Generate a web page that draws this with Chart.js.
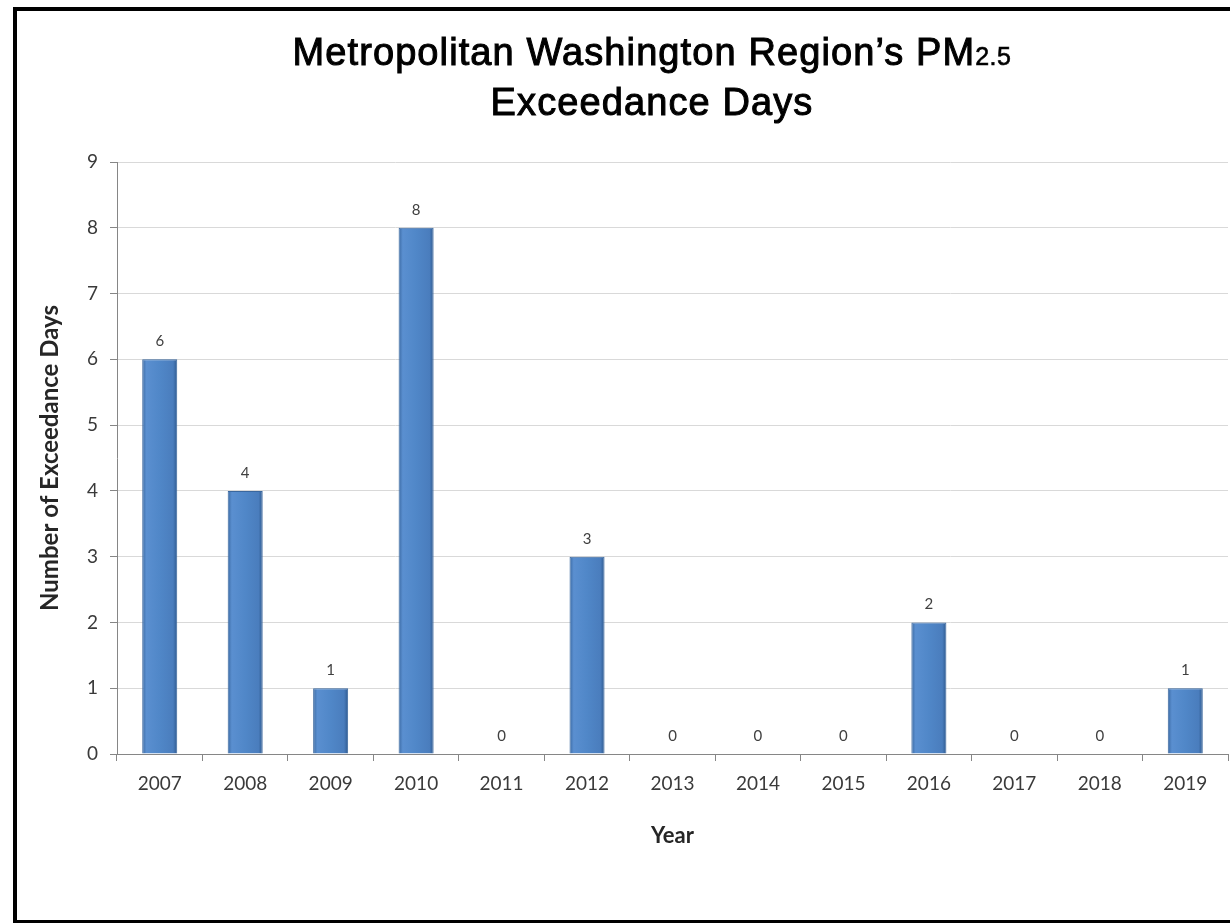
<!DOCTYPE html>
<html>
<head>
<meta charset="utf-8">
<script src="https://cdn.jsdelivr.net/npm/chart.js@4.4.0/dist/chart.umd.min.js"></script>
<style>
  html, body { margin: 0; padding: 0; background: #fff; }
  #wrap { position: relative; width: 1230px; height: 923px; overflow: hidden; }
  #frame { position: absolute; left: 13px; top: 7px; width: 1240px; height: 909px; border: 4px solid #000; box-sizing: content-box; pointer-events: none; }
  #title { position: absolute; left: 0; top: 29px; width: 1304px; text-align: center; font-family: "Liberation Sans", Arial, sans-serif; font-weight: normal; font-size: 38px; letter-spacing: 1.1px; -webkit-text-stroke: 1px #000; line-height: 46px; color: #000; }
  #title .sub { font-size: 25px; letter-spacing: 0.5px; -webkit-text-stroke: 0.6px #000; }
  canvas { position: absolute; left: 0; top: 0; }
</style>
</head>
<body>
<div id="wrap">
  <canvas id="c" width="1230" height="923"></canvas>
  <div id="title">Metropolitan Washington Region’s PM<span class="sub">2.5</span><br>Exceedance Days</div>
  <div id="frame"></div>
</div>
<script>
const years = ["2007","2008","2009","2010","2011","2012","2013","2014","2015","2016","2017","2018","2019"];
const exceedanceDays = [6, 4, 1, 8, 0, 3, 0, 0, 0, 2, 0, 0, 1];
const yTicks = [0, 1, 2, 3, 4, 5, 6, 7, 8, 9];
const xTitle = "Year";
const yTitle = "Number of Exceedance Days";

const FONT = "Lato, 'Open Sans', sans-serif";
const BAR_PCT = 0.82, CAT_PCT = 0.5;

function barFill(ctx) {
  const chart = ctx.chart;
  const xs = chart.scales && chart.scales.x;
  if (!xs || ctx.dataIndex === undefined) return '#4f81bd';
  const cx = xs.getPixelForValue(ctx.dataIndex);
  const half = (xs.width / years.length) * BAR_PCT * CAT_PCT / 2;
  if (!isFinite(cx) || !isFinite(half) || half <= 0) return '#4f81bd';
  const g = chart.ctx.createLinearGradient(cx - half, 0, cx + half, 0);
  g.addColorStop(0, '#3b6aa3');
  g.addColorStop(0.12, '#5a8fd0');
  g.addColorStop(0.5, '#5087c8');
  g.addColorStop(0.88, '#4a7dbd');
  g.addColorStop(1, '#2f5a8f');
  return g;
}

const valueLabels = {
  id: 'valueLabels',
  afterDatasetsDraw(chart) {
    const c = chart.ctx;
    const meta = chart.getDatasetMeta(0);
    c.save();
    c.font = "15px " + FONT;
    c.fillStyle = '#404040';
    c.textAlign = 'center';
    c.textBaseline = 'alphabetic';
    meta.data.forEach((el, i) => {
      c.fillText(String(exceedanceDays[i]), el.x, el.y - 13);
    });
    c.restore();
  }
};

new Chart(document.getElementById('c'), {
  type: 'bar',
  data: {
    labels: years,
    datasets: [{
      data: exceedanceDays,
      backgroundColor: barFill,
      borderColor: '#3a679e',
      borderWidth: 1,
      barPercentage: BAR_PCT,
      categoryPercentage: CAT_PCT
    }]
  },
  options: {
    responsive: false,
    animation: false,
    layout: { padding: { top: 162, left: 36, right: 2, bottom: 74 } },
    plugins: { legend: { display: false }, tooltip: { enabled: false }, title: { display: false } },
    scales: {
      x: {
        offset: true,
        grid: { offset: true, drawOnChartArea: false, drawTicks: true, tickLength: 7, color: '#868686' },
        border: { color: '#868686', width: 1 },
        ticks: { color: '#3a3a3a', font: { family: FONT, size: 19 }, padding: 11, maxRotation: 0 },
        title: { display: true, text: xTitle, color: '#262626', font: { family: FONT, size: 22, weight: 'bold' }, padding: { top: 0, bottom: 0 } },
        afterFit(s) { s.height = 95; }
      },
      y: {
        min: 0, max: 9,
        afterBuildTicks(s) { s.ticks = yTicks.map(v => ({ value: v })); },
        grid: { color: '#d9d9d9', tickColor: '#868686', tickLength: 7, drawTicks: true },
        border: { color: '#868686', width: 1 },
        ticks: { color: '#3a3a3a', font: { family: FONT, size: 19 }, padding: 12 },
        title: { display: true, text: yTitle, color: '#262626', font: { family: FONT, size: 24, weight: 'bold' }, padding: { top: 0, bottom: 0 } },
        afterFit(s) { s.width = 81; }
      }
    }
  },
  plugins: [valueLabels]
});
</script>
</body>
</html>
